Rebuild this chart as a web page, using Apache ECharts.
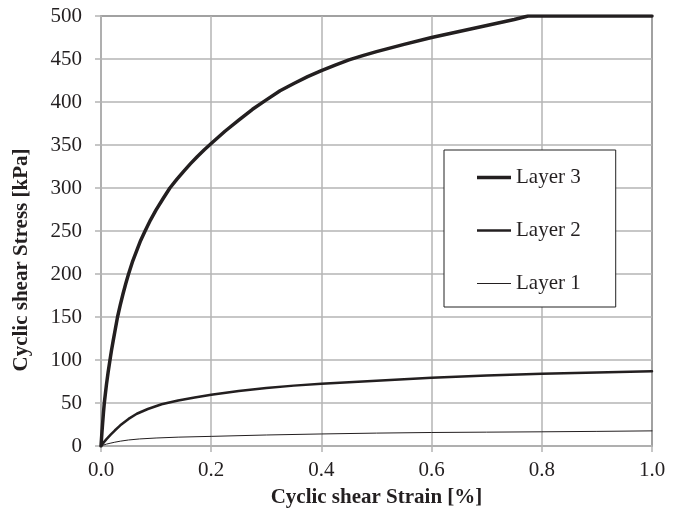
<!DOCTYPE html>
<html>
<head>
<meta charset="utf-8">
<script src="https://cdn.jsdelivr.net/npm/echarts@6/dist/echarts.min.js"></script>
<style>
  html, body { margin: 0; padding: 0; background: #fff; }
  #chart { width: 682px; height: 513px; }
</style>
</head>
<body>
<div id="chart"></div>
<script>
// Cyclic shear stress–strain backbone curves for three soil layers
const strainLayer3 = [0, 0.0015, 0.003, 0.0045, 0.006, 0.008, 0.01, 0.013, 0.0163, 0.019, 0.022, 0.026, 0.03, 0.035, 0.04, 0.045, 0.05, 0.057, 0.065, 0.072, 0.08, 0.09, 0.1, 0.1125, 0.125, 0.1375, 0.15, 0.1625, 0.175, 0.1875, 0.2, 0.225, 0.25, 0.275, 0.3, 0.325, 0.35, 0.375, 0.4, 0.425, 0.45, 0.475, 0.5, 0.55, 0.6, 0.65, 0.7, 0.75, 0.775, 0.8, 0.9, 1.0];
const stressLayer3 = [0, 14, 27, 39, 50, 61, 72, 86, 100, 111, 122, 136, 150, 164, 177, 189, 200, 214, 227.5, 239, 250, 263, 274.5, 287.5, 300, 310, 319.4, 328.3, 336.7, 344.5, 351.7, 366, 379, 391.5, 402.5, 413, 421.5, 429.5, 436.5, 443, 449, 454, 458.5, 467, 475, 482, 489, 496, 500, 500, 500, 500];

const strainLayer2 = [0, 0.005, 0.01, 0.018, 0.025, 0.035, 0.05, 0.065, 0.085, 0.11, 0.14, 0.17, 0.2, 0.25, 0.3, 0.35, 0.4, 0.5, 0.6, 0.7, 0.8, 0.9, 1.0];
const stressLayer2 = [0, 4.2, 8, 13.5, 18, 24, 31.5, 37.5, 43, 48.5, 53, 56.5, 59.5, 64, 67.5, 70.2, 72.5, 76, 79.3, 82, 84, 85.5, 86.8];

const strainLayer1 = [0, 0.005, 0.01, 0.018, 0.025, 0.035, 0.05, 0.07, 0.1, 0.14, 0.2, 0.3, 0.4, 0.5, 0.6, 0.7, 0.8, 0.9, 1.0];
const stressLayer1 = [0, 1.2, 2.2, 3.4, 4.4, 5.6, 7, 8.2, 9.3, 10.3, 11.2, 12.8, 14, 15, 15.7, 16.1, 16.5, 17, 17.6];

const seriesNames = ['Layer 3', 'Layer 2', 'Layer 1'];
const xTitle = 'Cyclic shear Strain [%]';
const yTitle = 'Cyclic shear Stress [kPa]';

const pairs = (xs, ys) => xs.map((x, i) => [x, ys[i]]);

const FONT = '"Liberation Serif", "DejaVu Serif", serif';
const INK = '#231f20';
const GRID = '#b4b4b4';
const lineWidths = [3.5, 2.5, 1];

const chart = echarts.init(document.getElementById('chart'), null, { renderer: 'canvas' });

function lineSeries(name, data, width) {
  return {
    name: name,
    type: 'line',
    data: data,
    showSymbol: false,
    symbol: 'none',
    smooth: false,
    lineStyle: { color: INK, width: width, join: 'round', cap: 'round' },
    itemStyle: { color: INK },
    emphasis: { disabled: true },
    animation: false
  };
}

// Legend samples: flat bars whose thickness follows each series' line width
const legendData = seriesNames.map((name, i) => ({
  name: name,
  icon: 'path://M0,0H34V' + lineWidths[i] + 'H0Z',
  itemStyle: { color: INK, borderWidth: 0 }
}));

chart.setOption({
  animation: false,
  backgroundColor: '#fff',
  grid: {
    left: 101, right: 30, top: 16, bottom: 67,
    show: true, borderColor: '#3a3a3a', borderWidth: 1.5
  },
  xAxis: {
    type: 'value', min: 0, max: 1, interval: 0.2,
    name: xTitle, nameLocation: 'middle', nameGap: 41,
    nameTextStyle: { fontFamily: FONT, fontSize: 21, fontWeight: 'bold', color: INK },
    axisLine: { show: true, onZero: false, lineStyle: { color: GRID, width: 1.5 } },
    axisTick: { show: true, length: 6, lineStyle: { color: GRID, width: 1.5 } },
    axisLabel: { fontFamily: FONT, fontSize: 21, color: INK, margin: 14,
      formatter: v => v.toFixed(1) },
    splitLine: { show: true, lineStyle: { color: GRID, width: 1.5 } }
  },
  yAxis: {
    type: 'value', min: 0, max: 500, interval: 50,
    axisLine: { show: true, onZero: false, lineStyle: { color: GRID, width: 1.5 } },
    axisTick: { show: true, length: 6, lineStyle: { color: GRID, width: 1.5 } },
    axisLabel: { fontFamily: FONT, fontSize: 21, color: INK, margin: 19 },
    splitLine: { show: true, lineStyle: { color: GRID, width: 1.5 } }
  },
  legend: {
    data: legendData,
    orient: 'vertical',
    left: 444, top: 150,
    padding: [17, 35, 13, 33],
    itemGap: 32,
    itemWidth: 34, itemHeight: 20,
    symbolKeepAspect: true,
    backgroundColor: '#fff',
    borderColor: '#222', borderWidth: 1,
    textStyle: { fontFamily: FONT, fontSize: 21, color: INK },
    selectedMode: false
  },
  graphic: [{
    type: 'text',
    rotation: Math.PI / 2,
    x: 22, y: 260,
    style: {
      text: yTitle,
      font: 'bold 21px ' + FONT,
      fill: INK,
      textAlign: 'center',
      textVerticalAlign: 'middle'
    }
  }],
  series: seriesNames.map((name, i) => lineSeries(
    name,
    [pairs(strainLayer3, stressLayer3), pairs(strainLayer2, stressLayer2), pairs(strainLayer1, stressLayer1)][i],
    lineWidths[i]
  ))
});
</script>
</body>
</html>
